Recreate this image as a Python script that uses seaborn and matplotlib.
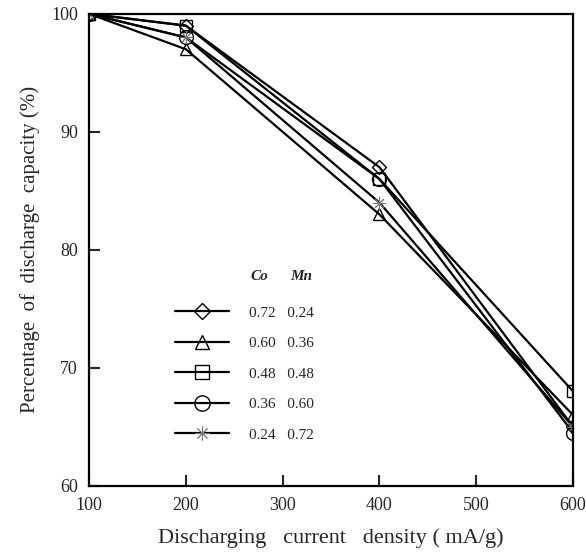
import pandas as pd
import numpy as np
import matplotlib
matplotlib.use("Agg")
import matplotlib.pyplot as plt
import seaborn as sns
from matplotlib.lines import Line2D

# current density (mA/g)
current = [100, 200, 400, 600]

# percentage of discharge capacity for each composition
s1 = [100, 99, 87, 65]      # Co 0.72 Mn 0.24
s2 = [100, 97, 83, 66]      # Co 0.60 Mn 0.36
s3 = [100, 99, 86, 68]      # Co 0.48 Mn 0.48
s4 = [100, 98, 86, 64.5]    # Co 0.36 Mn 0.60
s5 = [100, 98, 84, 65]      # Co 0.24 Mn 0.72

co = ["0.72", "0.60", "0.48", "0.36", "0.24"]
mn = ["0.24", "0.36", "0.48", "0.60", "0.72"]
series = [s1, s2, s3, s4, s5]
markers = ["D", "^", "s", "o", (8, 2, 0)]
msizes = [7, 9, 9, 10, 9]
edge = ["black", "black", "black", "black", "#777777"]
ew = [1.0, 1.0, 1.0, 1.0, 0.7]

rows = []
for c, m, vals in zip(co, mn, series):
    for x, y in zip(current, vals):
        rows.append({"current": x, "pct": y, "sample": c + " " + m})
df = pd.DataFrame(rows)

sns.set_style("white")
plt.rcParams["font.family"] = ["Liberation Serif", "DejaVu Serif"]

fig = plt.figure(figsize=(5.86, 5.54), dpi=100)
ax = fig.add_axes([0.152, 0.123, 0.826, 0.852])

order = [c + " " + m for c, m in zip(co, mn)]
for i, name in enumerate(order):
    sub = df[df["sample"] == name]
    sns.lineplot(data=sub, x="current", y="pct", ax=ax, color="black",
                 linewidth=1.6, marker=markers[i], markersize=msizes[i],
                 markerfacecolor="none", markeredgecolor=edge[i],
                 markeredgewidth=ew[i], legend=False)

ax.set_xlim(100, 600)
ax.set_ylim(60, 100)
ax.set_xticks([100, 200, 300, 400, 500, 600])
ax.set_yticks([60, 70, 80, 90, 100])
ax.tick_params(direction="in", length=8, width=1.5, labelsize=13,
               left=True, bottom=True, pad=8)
for sp in ax.spines.values():
    sp.set_linewidth(1.6)
    sp.set_color("black")

ax.set_xlabel("Discharging   current   density ( mA/g)", fontsize=16, labelpad=10)
ax.set_ylabel("Percentage  of  discharge  capacity (%)", fontsize=15, labelpad=8)

handles = []
labels = []
for i in range(5):
    h = Line2D([], [], color="black", linewidth=1.6, marker=markers[i],
               markersize=msizes[i] + 1, markerfacecolor="none",
               markeredgecolor=edge[i], markeredgewidth=ew[i])
    handles.append(h)
    labels.append(co[i] + "   " + mn[i])
ax.legend(handles, labels, loc="upper left", bbox_to_anchor=(0.15, 0.41),
          frameon=False, fontsize=11, handlelength=3.5, handletextpad=1.3,
          labelspacing=1.1)
ax.text(0.333, 0.443, "Co", transform=ax.transAxes, fontsize=11,
        fontweight="bold", style="italic", va="center")
ax.text(0.415, 0.443, "Mn", transform=ax.transAxes, fontsize=11,
        fontweight="bold", style="italic", va="center")

fig.savefig("out.png", dpi=100)
